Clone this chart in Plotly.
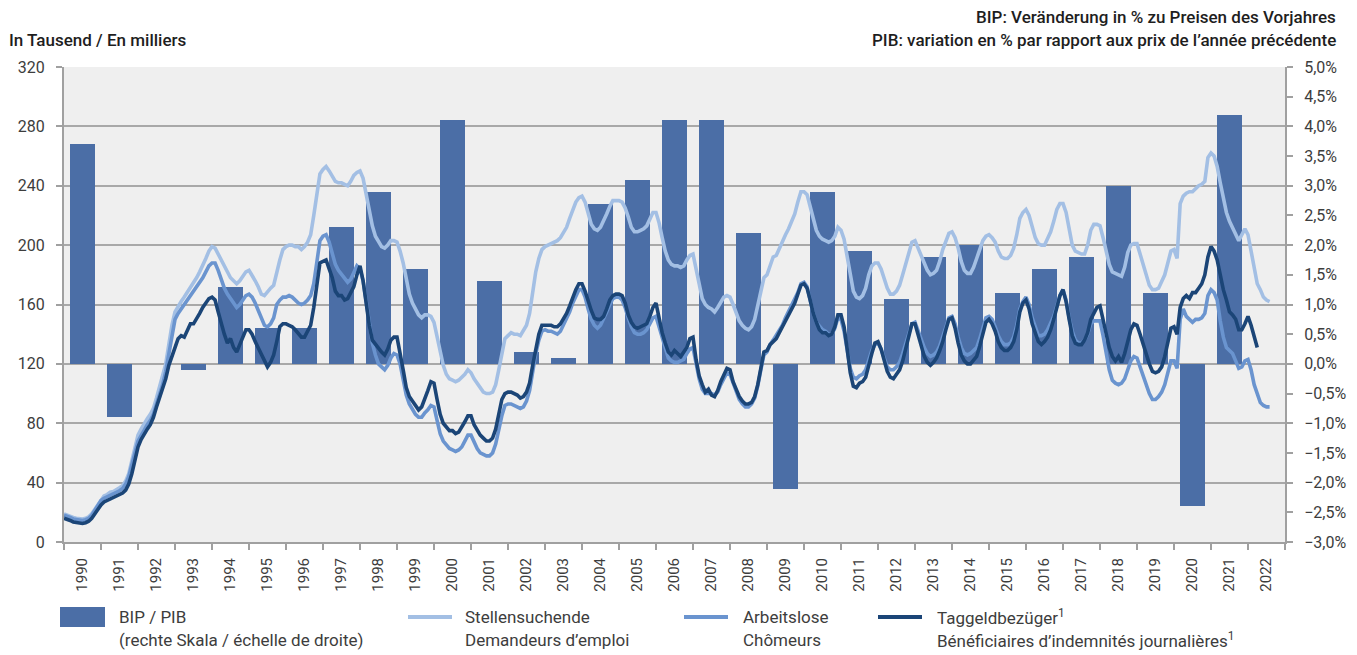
import plotly.graph_objects as go

# ---------------- data ----------------
years = list(range(1990, 2023))
year_labels = [str(y) for y in years]

# BIP / PIB, change in % (right scale)
gdp = [3.7, -0.9, 0.0, -0.1, 1.3, 0.6, 0.6, 2.3, 2.9, 1.6, 4.1, 1.4, 0.2, 0.1, 2.7, 3.1,
       4.1, 4.1, 2.2, -2.1, 2.9, 1.9, 1.1, 1.8, 2.0, 1.2, 1.6, 1.8, 3.0, 1.2, -2.4, 4.2, None]

# monthly values in thousands, starting January 1990
stellensuchende = [
    19, 18, 17, 16.5, 16, 15.5, 15.5, 16, 17, 19, 22, 26,            # 1990
    29, 31, 32, 33.5, 34, 35, 36.5, 38, 41, 46, 54, 64,              # 1991
    72, 76, 80, 83, 86, 90, 97, 104, 111, 120, 133, 146,             # 1992
    155, 159, 162, 165, 168, 172, 175, 178, 182, 186, 191, 196,      # 1993
    199, 198, 194, 189, 185, 181, 178, 176, 174, 176, 179, 182,      # 1994
    183, 180, 176, 172, 167, 166, 169, 171, 173, 182, 190, 197,      # 1995
    199, 200, 200, 199, 199, 197, 199, 202, 207, 220, 235, 248,      # 1996
    251, 253, 250, 246, 243, 242, 242, 241, 240, 243, 247, 249,      # 1997
    250, 245, 234, 222, 213, 206, 202, 199, 198, 200, 203, 203,      # 1998
    202, 196, 188, 176, 167, 161, 157, 153, 151, 153, 153, 152,      # 1999
    148, 138, 127, 119, 113, 110, 109, 108, 109, 111, 113, 116,      # 2000
    114, 110, 107, 103, 101, 100, 100, 101, 106, 116, 128, 137,      # 2001
    139, 141, 140, 140, 139, 142, 146, 154, 168, 182, 191, 197,      # 2002
    199, 200, 201, 202, 203, 205, 208, 212, 218, 224, 229, 232,      # 2003
    233, 229, 221, 214, 211, 210, 212, 216, 221, 226, 230, 230,      # 2004
    230, 229, 225, 219, 212, 209, 209, 210, 211, 213, 217, 222,      # 2005
    222, 215, 205, 196, 190, 187, 186, 186, 185, 186, 190, 193,      # 2006
    194, 183, 172, 164, 160, 158, 157, 155, 158, 162, 165, 166,      # 2007
    165, 160, 154, 149, 146, 144, 143, 145, 150, 160, 170, 178,      # 2008
    180, 187, 192, 193, 198, 203, 207, 211, 216, 221, 229, 236,      # 2009
    236, 234, 226, 217, 210, 206, 204, 203, 202, 203, 206, 212,      # 2010
    210, 204, 192, 179, 169, 165, 164, 166, 171, 180, 186, 188,      # 2011
    188, 184, 177, 171, 167, 167, 169, 173, 180, 188, 196, 202,      # 2012
    203, 198, 192, 187, 183, 180, 181, 183, 189, 197, 203, 208,      # 2013
    209, 205, 198, 189, 183, 181, 181, 185, 191, 197, 203, 206,      # 2014
    207, 205, 202, 196, 192, 191, 191, 193, 198, 207, 218, 222,      # 2015
    224, 220, 212, 205, 201, 200, 200, 204, 209, 216, 224, 228,      # 2016
    228, 222, 210, 200, 196, 195, 194, 194, 200, 210, 214, 214,      # 2017
    213, 205, 196, 187, 182, 181, 180, 179, 185, 195, 200, 201,      # 2018
    201, 194, 186, 178, 173, 170, 170, 171, 175, 180, 188, 196,      # 2019
    197, 191, 228, 233, 235, 236, 236, 238, 240, 241, 243, 259,      # 2020
    262, 260, 253, 242, 231, 222, 216, 212, 207, 203, 207, 211,      # 2021
    207, 196, 183, 174, 170, 165, 163, 162,                          # 2022
]

arbeitslose = [
    18, 17.5, 16.5, 15.5, 15, 14.5, 14.5, 15, 16, 18, 21, 25,        # 1990
    28, 29.5, 30.5, 31.5, 32, 33, 34.5, 36, 39, 44, 51, 60,          # 1991
    68, 72, 76, 79, 82, 86, 93, 99, 106, 115, 127, 140,              # 1992
    150, 154, 157, 159, 162, 166, 168, 171, 174, 178, 182, 186,      # 1993
    188, 188, 183, 176, 171, 167, 164, 161, 158, 160, 163, 166,      # 1994
    167, 165, 161, 156, 150, 146, 145, 147, 151, 160, 163, 165,      # 1995
    165, 166, 165, 163, 161, 160, 161, 163, 166, 174, 188, 203,      # 1996
    206, 207, 202, 195, 187, 183, 180, 177, 175, 177, 181, 186,      # 1997
    184, 176, 162, 147, 134, 126, 120, 118, 116, 119, 124, 127,      # 1998
    126, 120, 110, 99, 93, 89, 86, 84, 84, 87, 89, 92,               # 1999
    91, 82, 73, 68, 65, 63, 62, 61, 62, 64, 68, 72,                  # 2000
    72, 67, 63, 60, 59, 58, 58, 60, 66, 76, 85, 92,                  # 2001
    93, 93, 92, 91, 90, 91, 95, 102, 115, 127, 136, 142,             # 2002
    143, 142, 142, 141, 140, 142, 146, 150, 155, 161, 166, 170,      # 2003
    170, 165, 157, 150, 146, 144, 146, 150, 155, 160, 164, 165,      # 2004
    165, 163, 158, 151, 145, 141, 140, 140, 141, 143, 147, 151,      # 2005
    152, 145, 137, 129, 124, 122, 121, 121, 122, 123, 127, 130,      # 2006
    131, 119, 110, 103, 100, 100, 100, 99, 101, 106, 110, 114,       # 2007
    113, 107, 101, 96, 93, 91, 91, 93, 97, 105, 116, 126,            # 2008
    128, 133, 136, 139, 143, 146, 151, 155, 159, 163, 168, 174,      # 2009
    175, 172, 163, 154, 148, 145, 143, 142, 140, 140, 144, 151,      # 2010
    150, 142, 129, 117, 111, 110, 112, 113, 116, 123, 129, 133,      # 2011
    134, 130, 123, 118, 116, 116, 118, 121, 127, 134, 141, 147,      # 2012
    148, 142, 136, 131, 127, 125, 126, 128, 132, 138, 145, 151,      # 2013
    152, 147, 138, 131, 127, 126, 127, 129, 131, 137, 145, 151,      # 2014
    152, 150, 145, 139, 135, 133, 133, 134, 138, 146, 157, 162,      # 2015
    165, 160, 151, 144, 139, 139, 140, 143, 147, 152, 159, 166,      # 2016
    170, 163, 151, 142, 136, 134, 134, 136, 140, 147, 149, 149,      # 2017
    149, 139, 127, 116, 109, 107, 106, 107, 110, 116, 122, 125,      # 2018
    124, 118, 112, 105, 100, 96, 96, 98, 101, 106, 114, 122,         # 2019
    122, 117, 150, 157, 152, 150, 148, 150, 150, 151, 154, 166,      # 2020
    170, 168, 163, 149, 138, 131, 129, 127, 122, 117, 118, 122,      # 2021
    123, 116, 106, 99, 94, 92, 91, 91,                               # 2022
]

taggeldbezueger = [
    16, 15.5, 14.5, 13.5, 13, 12.5, 12.5, 13, 14, 16, 19, 23,        # 1990
    25, 27, 28, 29, 30, 30.5, 31.5, 33, 35, 39, 46, 55,              # 1991
    64, 69, 73, 76, 79, 84, 91, 97, 103, 110, 119, 126,              # 1992
    131, 137, 139, 138, 142, 147, 147, 150, 154, 158, 161, 164,      # 1993
    165, 163, 155, 147, 140, 134, 137, 131, 128, 133, 138, 143,      # 1994
    143, 140, 135, 131, 126, 122, 118, 121, 126, 135, 145, 147,      # 1995
    147, 146, 145, 143, 140, 138, 138, 142, 146, 158, 173, 188,      # 1996
    189, 190, 184, 178, 169, 166, 166, 163, 164, 168, 172, 180,      # 1997
    186, 176, 160, 146, 136, 133, 130, 128, 126, 130, 136, 138,      # 1998
    138, 128, 116, 104, 98, 95, 92, 89, 91, 96, 102, 108,            # 1999
    107, 96, 86, 80, 77, 75, 75, 73, 74, 77, 81, 85,                 # 2000
    85, 79, 75, 72, 70, 68, 68, 70, 76, 86, 96, 100,                 # 2001
    101, 101, 100, 99, 97, 98, 101, 107, 119, 131, 140, 146,         # 2002
    146, 146, 146, 145, 145, 147, 150, 154, 159, 165, 170, 174,      # 2003
    174, 169, 162, 156, 151, 150, 150, 152, 157, 163, 166, 167,      # 2004
    167, 166, 161, 153, 148, 145, 144, 145, 146, 147, 152, 158,      # 2005
    161, 150, 141, 134, 128, 126, 129, 127, 125, 128, 131, 137,      # 2006
    138, 123, 112, 106, 101, 103, 99, 98, 102, 108, 112, 117,        # 2007
    116, 108, 103, 98, 95, 93, 93, 94, 98, 106, 117, 128,            # 2008
    129, 133, 135, 137, 141, 145, 148, 152, 156, 161, 167, 173,      # 2009
    174, 171, 163, 154, 148, 143, 141, 141, 139, 140, 145, 153,      # 2010
    153, 145, 130, 114, 105, 104, 107, 108, 111, 120, 127, 134,      # 2011
    135, 130, 122, 115, 111, 110, 113, 116, 122, 131, 140, 147,      # 2012
    147, 139, 131, 125, 121, 119, 121, 124, 129, 135, 143, 150,      # 2013
    151, 144, 134, 126, 122, 120, 120, 123, 125, 132, 140, 148,      # 2014
    150, 147, 142, 135, 131, 129, 129, 131, 135, 143, 155, 161,      # 2015
    163, 157, 147, 140, 135, 133, 135, 138, 143, 150, 158, 166,      # 2016
    170, 162, 150, 139, 134, 133, 133, 136, 141, 150, 154, 158,      # 2017
    159, 150, 140, 131, 125, 122, 125, 121, 127, 135, 143, 147,      # 2018
    146, 140, 133, 127, 120, 115, 114, 115, 118, 125, 135, 144,      # 2019
    145, 140, 158, 164, 166, 164, 168, 168, 171, 174, 180, 192,      # 2020
    199, 196, 190, 180, 170, 163, 155, 153, 150, 143, 143, 147,      # 2021
    152, 146, 139, 131,                                              # 2022
]

left_ticks = list(range(0, 321, 40))
right_tickvals = [v / 2 for v in range(-6, 11)]
right_ticktext = [("−" if v < 0 else "") + f"{abs(v):.1f}".replace(".", ",") + "%" for v in right_tickvals]

# ---------------- styling ----------------
W, H = 1357, 655
ML, MR, MT, MB = 64, 72, 67, 113
PW, PH = W - ML - MR, H - MT - MB

BAR_C = "#4b6ea6"
LIGHT_C = "#a3bfe4"
MID_C = "#6a94cf"
DARK_C = "#1b4577"
GRID_C = "#a8a8a8"
AXIS_C = "#a0a0a0"
TXT_C = "#3d3d3d"
FONT = "Roboto, 'Open Sans', sans-serif"


def px(x):
    return (x - ML) / PW


def py(y):
    return (H - MB - y) / PH


def month_x(n):
    return [1990 + i / 12 for i in range(n)]


fig = go.Figure()

fig.add_trace(go.Bar(
    x=[y + 0.5 for y in years], y=gdp, width=0.68,
    marker=dict(color=BAR_C, line=dict(width=0)),
    name="BIP / PIB", xaxis="x", yaxis="y", showlegend=False,
))
fig.add_trace(go.Scatter(
    x=month_x(len(stellensuchende)), y=stellensuchende, mode="lines",
    line=dict(color=LIGHT_C, width=3.6), name="Stellensuchende",
    xaxis="x", yaxis="y2", showlegend=False,
))
fig.add_trace(go.Scatter(
    x=month_x(len(arbeitslose)), y=arbeitslose, mode="lines",
    line=dict(color=MID_C, width=3.6), name="Arbeitslose",
    xaxis="x", yaxis="y2", showlegend=False,
))
fig.add_trace(go.Scatter(
    x=month_x(len(taggeldbezueger)), y=taggeldbezueger, mode="lines",
    line=dict(color=DARK_C, width=3.6), name="Taggeldbezüger",
    xaxis="x", yaxis="y2", showlegend=False,
))

fig.update_layout(
    width=W, height=H,
    margin=dict(l=ML, r=MR, t=MT, b=MB, pad=0),
    paper_bgcolor="white", plot_bgcolor="#efefef",
    font=dict(family=FONT, color=TXT_C, size=15),
    bargap=0,
    xaxis=dict(
        range=[1990, 2023], tickmode="array",
        tickvals=[y + 0.5 for y in years], ticktext=year_labels,
        tickangle=-90, ticks="", showgrid=False, zeroline=False,
        showline=True, linecolor=AXIS_C, linewidth=2,
        tickfont=dict(size=15, color=TXT_C), ticklabelstandoff=8,
        minor=dict(tickmode="array", tickvals=list(range(1990, 2024)),
                   ticks="outside", ticklen=6, tickwidth=1.5, tickcolor=AXIS_C,
                   showgrid=False),
    ),
    yaxis=dict(
        side="right", range=[-3, 5], tickmode="array",
        tickvals=right_tickvals, ticktext=right_ticktext,
        showgrid=False, zeroline=False, showline=True,
        linecolor=AXIS_C, linewidth=2, ticks="outside", ticklen=6,
        tickwidth=1.5, tickcolor=AXIS_C, tickfont=dict(size=16, color=TXT_C),
        ticklabelstandoff=8,
    ),
    yaxis2=dict(
        side="left", overlaying="y", range=[0, 320], tickmode="array",
        tickvals=left_ticks, showgrid=True, gridcolor=GRID_C, gridwidth=1.5,
        zeroline=False, showline=True, linecolor=AXIS_C, linewidth=2,
        ticks="outside", ticklen=6, tickwidth=1.5, tickcolor=AXIS_C,
        tickfont=dict(size=16, color=TXT_C), ticklabelstandoff=8,
    ),
    showlegend=False,
)

# headers
head_font = dict(family=FONT, size=17, color="#1e1e1e", weight=500)
fig.add_annotation(text="In Tausend / En milliers", xref="paper", yref="paper",
                   x=px(7), y=py(40), xanchor="left", yanchor="middle",
                   showarrow=False, font=head_font)
fig.add_annotation(text="BIP: Veränderung in % zu Preisen des Vorjahres", xref="paper", yref="paper",
                   x=px(1338), y=py(17), xanchor="right", yanchor="middle",
                   showarrow=False, font=head_font)
fig.add_annotation(text="PIB: variation en % par rapport aux prix de l’année précédente",
                   xref="paper", yref="paper",
                   x=px(1338), y=py(40), xanchor="right", yanchor="middle",
                   showarrow=False, font=head_font)

# legend (drawn manually to match the layout)
fig.add_shape(type="rect", xref="paper", yref="paper",
              x0=px(60), x1=px(105), y0=py(627), y1=py(607),
              fillcolor=BAR_C, line=dict(width=0))
for x0, col in [(408, LIGHT_C), (684, MID_C), (878, DARK_C)]:
    fig.add_shape(type="line", xref="paper", yref="paper",
                  x0=px(x0), x1=px(x0 + 44), y0=py(617), y1=py(617),
                  line=dict(color=col, width=4))

leg_font = dict(family=FONT, size=17, color=TXT_C)
legend_texts = [
    (117, "BIP / PIB", "(rechte Skala / échelle de droite)"),
    (463, "Stellensuchende", "Demandeurs d’emploi"),
    (741, "Arbeitslose", "Chômeurs"),
    (935, "Taggeldbezüger<sup>1</sup>", "Bénéficiaires d’indemnités journalières<sup>1</sup>"),
]
for x0, l1, l2 in legend_texts:
    fig.add_annotation(text=l1, xref="paper", yref="paper", x=px(x0), y=py(617),
                       xanchor="left", yanchor="middle", showarrow=False, font=leg_font)
    fig.add_annotation(text=l2, xref="paper", yref="paper", x=px(x0), y=py(640),
                       xanchor="left", yanchor="middle", showarrow=False, font=leg_font)

fig.write_html("out.html", config={"displayModeBar": False},
               post_script="document.body.style.margin='0';")
